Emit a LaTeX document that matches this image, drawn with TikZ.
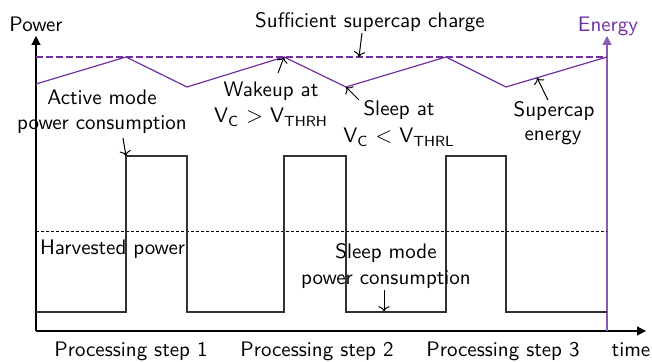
\documentclass[tikz,border=0pt]{standalone}
\usetikzlibrary{arrows.meta}
\definecolor{epurple}{RGB}{112,48,160}
\begin{document}
\begin{tikzpicture}[x=0.5pt,y=-0.5pt,
  font=\sffamily\fontsize{10.5}{13}\selectfont,
  every node/.style={inner sep=0pt,outer sep=0pt},
  axis/.style={line width=0.6pt,-{Triangle[length=4.5pt,width=4.5pt]}},
  sig/.style={line width=0.6pt,black!80},
  energy/.style={line width=0.6pt,epurple},
  note/.style={line width=0.5pt,->,black},
  lbl/.style={align=center}]
\useasboundingbox (0,0) rectangle (652,362);
% axes
\coordinate (O) at (36,331);
\coordinate (ptop) at (36,36);
\coordinate (tend) at (646,331);
\coordinate (Ebot) at (607,331);
\coordinate (Etop) at (607,36);
\draw[axis] (O) -- (ptop);
\draw[axis] (O) -- (tend);
\draw[axis,epurple!80] (Ebot) -- (Etop);
\node[anchor=base] (power) at (36,32) {Power};
\node[anchor=base,text=epurple] (energylbl) at (608,32) {Energy};
\node[anchor=base] (time) at (631,357) {time};
% thresholds
\draw[energy,dash pattern=on 3.3pt off 1.7pt] (36,57) coordinate (suf0) -- (607,57) coordinate (suf1);
\draw[sig,black,line width=0.5pt,dash pattern=on 1.5pt off 1pt] (36,232) coordinate (h0) -- (607,232) coordinate (h1);
% power signal
\coordinate (s0) at (36,312);
\coordinate (r1) at (126,312); \coordinate (t1) at (126,156);
\draw[sig] (s0) -- (r1) -- (t1) -- (187,156) -- (187,312) -- (284,312) -- (284,156)
  -- (346,156) -- (346,312) -- (446,312) -- (446,156) -- (506,156) -- (506,312) -- (607,312);
% energy curve
\coordinate (e0) at (36,84);
\coordinate (p1) at (126,57);
\coordinate (v1) at (187,87);
\coordinate (p2) at (284,57);
\coordinate (v2) at (346,87);
\coordinate (p3) at (446,57);
\coordinate (v3) at (506,87);
\coordinate (p4) at (607,57);
\draw[energy] (e0) -- (p1) -- (v1) -- (p2) -- (v2) -- (p3) -- (v3) -- (p4);
% labels
\node[anchor=base] (suflbl) at (370,28) {Sufficient supercap charge};
\coordinate (sufpt) at (359,57);
\draw[note] (362,33) -- (sufpt);
\node[lbl,anchor=base] (wake1) at (271,97) {Wakeup at};
\node[anchor=base] (wake2) at (271,123) {V\textsubscript{C} $>$ V\textsubscript{THRH}};
\draw[note] (278,73) -- (p2);
\node[anchor=base] (sleep1) at (399,116) {Sleep at};
\node[anchor=base] (sleep2) at (399,143) {V\textsubscript{C} $<$ V\textsubscript{THRL}};
\draw[note] (359,100) -- (v2);
\node[anchor=base] (sc1) at (554,117) {Supercap};
\node[anchor=base] (sc2) at (553,141) {energy};
\coordinate (scpt) at (537,77.8);
\draw[note] (548,100) -- (scpt);
\node[anchor=base] (act1) at (102,105) {Active mode};
\node[anchor=base] (act2) at (102,130) {power consumption};
\draw[note] (123,138) -- (t1);
\node[anchor=base west] (harv) at (40,255) {Harvested power};
\node[anchor=base] (slm1) at (386,259) {Sleep mode};
\node[anchor=base] (slm2) at (386,285) {power consumption};
\coordinate (slmpt) at (384,311.5);
\draw[note] (384,290) -- (slmpt);
\node[anchor=base] (ps1) at (131,357) {Processing step 1};
\node[anchor=base] (ps2) at (317,357) {Processing step 2};
\node[anchor=base] (ps3) at (503,357) {Processing step 3};
\end{tikzpicture}
\end{document}
